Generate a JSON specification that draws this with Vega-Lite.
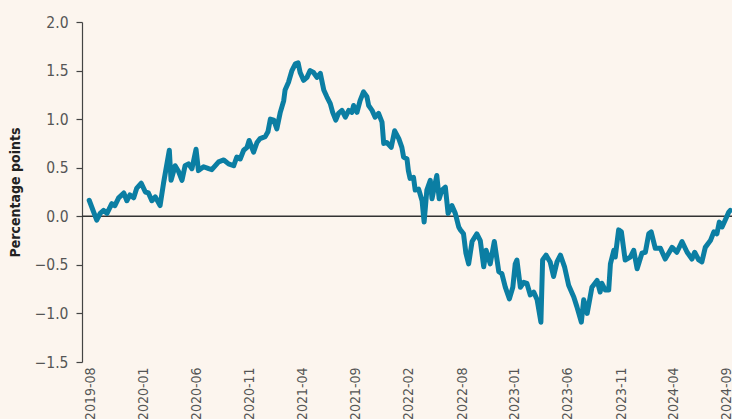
{
  "$schema": "https://vega.github.io/schema/vega-lite/v6.json",
  "width": 650,
  "height": 340,
  "autosize": {"type": "none"},
  "padding": {"left": 82, "top": 22, "right": 0, "bottom": 57},
  "background": "#fcf5ee",
  "config": {"view": {"stroke": null}, "font": "DejaVu Sans Condensed, Liberation Sans Narrow, Roboto, sans-serif"},
  "datasets": {
    "spread": [
      {"date": "2019-08-09", "value": 0.165},
      {"date": "2019-08-31", "value": -0.04},
      {"date": "2019-09-10", "value": 0.03},
      {"date": "2019-09-20", "value": 0.06},
      {"date": "2019-09-30", "value": 0.03},
      {"date": "2019-10-14", "value": 0.13},
      {"date": "2019-10-23", "value": 0.11},
      {"date": "2019-11-03", "value": 0.19},
      {"date": "2019-11-18", "value": 0.24},
      {"date": "2019-11-27", "value": 0.16},
      {"date": "2019-12-06", "value": 0.22},
      {"date": "2019-12-17", "value": 0.19},
      {"date": "2019-12-26", "value": 0.29},
      {"date": "2020-01-08", "value": 0.34},
      {"date": "2020-01-20", "value": 0.25},
      {"date": "2020-01-29", "value": 0.24},
      {"date": "2020-02-08", "value": 0.16},
      {"date": "2020-02-18", "value": 0.2},
      {"date": "2020-03-03", "value": 0.11},
      {"date": "2020-03-13", "value": 0.34},
      {"date": "2020-03-18", "value": 0.44},
      {"date": "2020-03-30", "value": 0.68},
      {"date": "2020-04-04", "value": 0.37},
      {"date": "2020-04-16", "value": 0.52},
      {"date": "2020-04-26", "value": 0.46},
      {"date": "2020-05-06", "value": 0.37},
      {"date": "2020-05-15", "value": 0.52},
      {"date": "2020-05-25", "value": 0.54},
      {"date": "2020-06-04", "value": 0.49},
      {"date": "2020-06-16", "value": 0.69},
      {"date": "2020-06-23", "value": 0.47},
      {"date": "2020-07-08", "value": 0.51},
      {"date": "2020-07-23", "value": 0.49},
      {"date": "2020-08-01", "value": 0.48},
      {"date": "2020-08-21", "value": 0.56},
      {"date": "2020-09-05", "value": 0.58},
      {"date": "2020-09-19", "value": 0.54},
      {"date": "2020-10-04", "value": 0.52},
      {"date": "2020-10-13", "value": 0.61},
      {"date": "2020-10-23", "value": 0.59},
      {"date": "2020-11-02", "value": 0.68},
      {"date": "2020-11-12", "value": 0.71},
      {"date": "2020-11-18", "value": 0.78},
      {"date": "2020-12-01", "value": 0.66},
      {"date": "2020-12-11", "value": 0.76},
      {"date": "2020-12-20", "value": 0.8},
      {"date": "2021-01-04", "value": 0.82},
      {"date": "2021-01-12", "value": 0.87},
      {"date": "2021-01-19", "value": 1.0},
      {"date": "2021-01-29", "value": 0.99},
      {"date": "2021-02-07", "value": 0.9},
      {"date": "2021-02-17", "value": 1.07},
      {"date": "2021-02-27", "value": 1.19},
      {"date": "2021-03-03", "value": 1.3},
      {"date": "2021-03-13", "value": 1.38},
      {"date": "2021-03-23", "value": 1.5},
      {"date": "2021-04-02", "value": 1.57},
      {"date": "2021-04-10", "value": 1.58},
      {"date": "2021-04-16", "value": 1.48},
      {"date": "2021-04-26", "value": 1.4},
      {"date": "2021-05-06", "value": 1.43},
      {"date": "2021-05-15", "value": 1.5},
      {"date": "2021-05-25", "value": 1.48},
      {"date": "2021-06-04", "value": 1.43},
      {"date": "2021-06-14", "value": 1.47},
      {"date": "2021-06-24", "value": 1.3},
      {"date": "2021-07-03", "value": 1.23},
      {"date": "2021-07-13", "value": 1.16},
      {"date": "2021-07-20", "value": 1.07},
      {"date": "2021-07-29", "value": 0.99},
      {"date": "2021-08-06", "value": 1.06},
      {"date": "2021-08-16", "value": 1.09},
      {"date": "2021-08-26", "value": 1.02},
      {"date": "2021-09-05", "value": 1.09},
      {"date": "2021-09-14", "value": 1.07},
      {"date": "2021-09-19", "value": 1.14},
      {"date": "2021-09-29", "value": 1.07},
      {"date": "2021-10-08", "value": 1.19},
      {"date": "2021-10-18", "value": 1.28},
      {"date": "2021-10-28", "value": 1.23},
      {"date": "2021-11-02", "value": 1.14},
      {"date": "2021-11-12", "value": 1.09},
      {"date": "2021-11-21", "value": 1.02},
      {"date": "2021-12-01", "value": 1.06},
      {"date": "2021-12-11", "value": 0.97},
      {"date": "2021-12-16", "value": 0.75},
      {"date": "2021-12-25", "value": 0.76},
      {"date": "2022-01-07", "value": 0.71},
      {"date": "2022-01-17", "value": 0.88},
      {"date": "2022-01-29", "value": 0.8},
      {"date": "2022-02-07", "value": 0.71},
      {"date": "2022-02-12", "value": 0.61},
      {"date": "2022-02-22", "value": 0.59},
      {"date": "2022-02-26", "value": 0.47},
      {"date": "2022-03-03", "value": 0.39},
      {"date": "2022-03-13", "value": 0.4},
      {"date": "2022-03-18", "value": 0.27},
      {"date": "2022-03-28", "value": 0.28},
      {"date": "2022-04-07", "value": 0.16},
      {"date": "2022-04-13", "value": -0.06},
      {"date": "2022-04-21", "value": 0.27},
      {"date": "2022-05-01", "value": 0.37},
      {"date": "2022-05-06", "value": 0.18},
      {"date": "2022-05-20", "value": 0.42},
      {"date": "2022-05-27", "value": 0.18},
      {"date": "2022-06-04", "value": 0.27},
      {"date": "2022-06-14", "value": 0.3},
      {"date": "2022-06-22", "value": 0.03},
      {"date": "2022-07-03", "value": 0.11},
      {"date": "2022-07-13", "value": 0.03},
      {"date": "2022-07-23", "value": -0.11},
      {"date": "2022-07-28", "value": -0.14},
      {"date": "2022-08-06", "value": -0.18},
      {"date": "2022-08-13", "value": -0.38},
      {"date": "2022-08-21", "value": -0.49},
      {"date": "2022-08-31", "value": -0.26},
      {"date": "2022-09-14", "value": -0.18},
      {"date": "2022-09-24", "value": -0.25},
      {"date": "2022-10-04", "value": -0.52},
      {"date": "2022-10-11", "value": -0.35},
      {"date": "2022-10-23", "value": -0.49},
      {"date": "2022-11-04", "value": -0.26},
      {"date": "2022-11-17", "value": -0.57},
      {"date": "2022-11-26", "value": -0.59},
      {"date": "2022-12-06", "value": -0.73},
      {"date": "2022-12-18", "value": -0.85},
      {"date": "2022-12-28", "value": -0.73},
      {"date": "2023-01-04", "value": -0.49},
      {"date": "2023-01-09", "value": -0.45},
      {"date": "2023-01-19", "value": -0.73},
      {"date": "2023-01-29", "value": -0.68},
      {"date": "2023-02-07", "value": -0.69},
      {"date": "2023-02-17", "value": -0.81},
      {"date": "2023-02-27", "value": -0.78},
      {"date": "2023-03-09", "value": -0.86},
      {"date": "2023-03-20", "value": -1.09},
      {"date": "2023-03-25", "value": -0.45},
      {"date": "2023-04-04", "value": -0.4},
      {"date": "2023-04-16", "value": -0.47},
      {"date": "2023-04-26", "value": -0.62},
      {"date": "2023-05-06", "value": -0.47},
      {"date": "2023-05-16", "value": -0.4},
      {"date": "2023-05-28", "value": -0.52},
      {"date": "2023-06-09", "value": -0.71},
      {"date": "2023-06-24", "value": -0.83},
      {"date": "2023-07-03", "value": -0.93},
      {"date": "2023-07-16", "value": -1.09},
      {"date": "2023-07-23", "value": -0.86},
      {"date": "2023-08-02", "value": -1.0},
      {"date": "2023-08-16", "value": -0.73},
      {"date": "2023-08-31", "value": -0.66},
      {"date": "2023-09-09", "value": -0.78},
      {"date": "2023-09-14", "value": -0.69},
      {"date": "2023-09-24", "value": -0.76},
      {"date": "2023-10-04", "value": -0.76},
      {"date": "2023-10-09", "value": -0.49},
      {"date": "2023-10-19", "value": -0.35},
      {"date": "2023-10-23", "value": -0.42},
      {"date": "2023-11-02", "value": -0.14},
      {"date": "2023-11-10", "value": -0.16},
      {"date": "2023-11-21", "value": -0.45},
      {"date": "2023-12-06", "value": -0.42},
      {"date": "2023-12-16", "value": -0.35},
      {"date": "2023-12-26", "value": -0.54},
      {"date": "2024-01-09", "value": -0.38},
      {"date": "2024-01-19", "value": -0.37},
      {"date": "2024-01-29", "value": -0.18},
      {"date": "2024-02-05", "value": -0.16},
      {"date": "2024-02-17", "value": -0.33},
      {"date": "2024-03-03", "value": -0.33},
      {"date": "2024-03-17", "value": -0.44},
      {"date": "2024-04-06", "value": -0.32},
      {"date": "2024-04-20", "value": -0.37},
      {"date": "2024-05-05", "value": -0.26},
      {"date": "2024-05-20", "value": -0.37},
      {"date": "2024-06-03", "value": -0.44},
      {"date": "2024-06-11", "value": -0.37},
      {"date": "2024-06-23", "value": -0.45},
      {"date": "2024-07-02", "value": -0.47},
      {"date": "2024-07-12", "value": -0.32},
      {"date": "2024-07-27", "value": -0.25},
      {"date": "2024-08-06", "value": -0.16},
      {"date": "2024-08-15", "value": -0.18},
      {"date": "2024-08-22", "value": -0.06},
      {"date": "2024-08-30", "value": -0.11},
      {"date": "2024-09-08", "value": -0.04},
      {"date": "2024-09-18", "value": 0.04},
      {"date": "2024-09-23", "value": 0.06}
    ]
  },
  "layer": [
    {
      "data": {"values": [{"ref": 0}]},
      "mark": {"type": "rule", "color": "#333333", "strokeWidth": 1.5},
      "encoding": {"y": {"field": "ref", "type": "quantitative"}}
    },
    {
      "data": {"name": "spread"},
      "mark": {"type": "line", "color": "#0b7ea3", "strokeWidth": 5, "strokeJoin": "round", "strokeCap": "round"},
      "encoding": {
        "x": {
          "field": "date",
          "type": "temporal",
          "scale": {"domain": [{"year": 2019, "month": 7, "date": 19}, {"year": 2024, "month": 9, "date": 28}]},
          "axis": {
            "values": [
              {"year": 2019, "month": 8, "date": 14},
              {"year": 2020, "month": 1, "date": 15},
              {"year": 2020, "month": 6, "date": 18},
              {"year": 2020, "month": 11, "date": 20},
              {"year": 2021, "month": 4, "date": 24},
              {"year": 2021, "month": 9, "date": 26},
              {"year": 2022, "month": 2, "date": 27},
              {"year": 2022, "month": 8, "date": 2},
              {"year": 2023, "month": 1, "date": 3},
              {"year": 2023, "month": 6, "date": 7},
              {"year": 2023, "month": 11, "date": 9},
              {"year": 2024, "month": 4, "date": 11},
              {"year": 2024, "month": 9, "date": 13}
            ],
            "format": "%Y-%m",
            "labelAngle": -90,
            "ticks": false,
            "domain": false,
            "grid": false,
            "title": null,
            "labelFont": "DejaVu Sans Condensed, Liberation Sans Narrow, Roboto, sans-serif",
            "labelFontSize": 14,
            "labelColor": "#555555",
            "labelPadding": 5,
            "labelOverlap": false,
            "labelFlush": false
          }
        },
        "y": {
          "field": "value",
          "type": "quantitative",
          "scale": {"domain": [-1.5, 2.0], "nice": false, "zero": false},
          "axis": {
            "values": [-1.5, -1, -0.5, 0, 0.5, 1, 1.5, 2],
            "format": ".1f",
            "grid": false,
            "domainColor": "#444444",
            "domainWidth": 1.2,
            "tickColor": "#444444",
            "tickSize": 6,
            "tickWidth": 1.2,
            "labelFont": "DejaVu Sans Condensed, Liberation Sans Narrow, Roboto, sans-serif",
            "labelFontSize": 15.5,
            "labelColor": "#555555",
            "labelPadding": 8,
            "title": "Percentage points",
            "titleFont": "DejaVu Sans Condensed, Liberation Sans Narrow, Roboto, sans-serif",
            "titleFontSize": 14,
            "titleFontWeight": "bold",
            "titleColor": "#222222",
            "titlePadding": 12
          }
        }
      }
    }
  ]
}
